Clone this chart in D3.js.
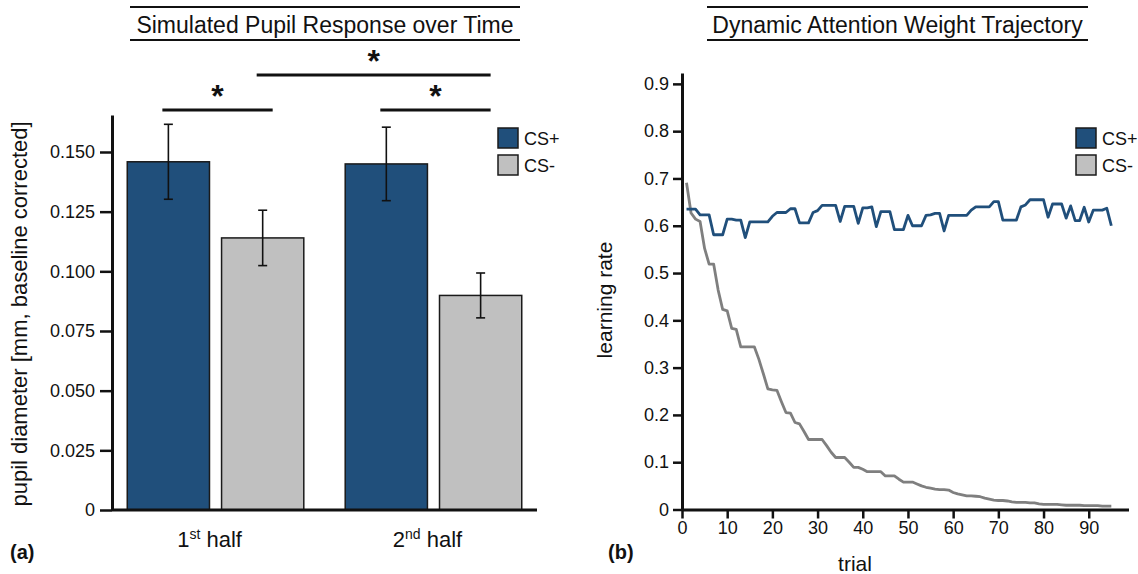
<!DOCTYPE html>
<html><head><meta charset="utf-8">
<script src="https://cdn.jsdelivr.net/npm/d3@7"></script>
<style>
body{margin:0;background:#fff}
svg{display:block}
text{font-family:"Liberation Sans",Arial,sans-serif;fill:#111}
</style>
</head><body>
<svg id="c" width="1138" height="574"></svg>
<script>
// ---------- data: panel (a) ----------
const groups = ["1st half", "2nd half"];
const groupOrdinal = ["1", "2"];
const groupSuffix = ["st", "nd"];
const groupWord = " half";
const conditions = ["CS+", "CS-"];
const pupilCSplus = [0.1459, 0.1450];
const pupilCSminus = [0.1140, 0.0899];
const errCSplus = [0.0157, 0.0154];
const errCSminus = [0.0116, 0.0094];
const pupilTicks = [0, 0.025, 0.05, 0.075, 0.1, 0.125, 0.15];
const pupilTickLabels = ["0", "0.025", "0.050", "0.075", "0.100", "0.125", "0.150"];
// significance brackets: [group, condition] -> [group, condition]
const sigPairs = [
  {from: [0, 0], to: [0, 1], level: 0},
  {from: [1, 0], to: [1, 1], level: 0},
  {from: [0, 1], to: [1, 1], level: 1}
];

// ---------- data: panel (b) ----------
const trials = d3.range(1, 96);
const rateCSplus = [0.635,0.635,0.635,0.623,0.623,0.623,0.581,0.581,0.581,0.614,
  0.614,0.612,0.612,0.575,0.608,0.608,0.608,0.608,0.608,0.620,
  0.628,0.628,0.628,0.636,0.636,0.606,0.606,0.606,0.628,0.632,
  0.643,0.643,0.643,0.643,0.609,0.641,0.641,0.641,0.605,0.638,
  0.638,0.640,0.598,0.630,0.630,0.630,0.592,0.592,0.592,0.622,
  0.600,0.600,0.600,0.622,0.623,0.626,0.626,0.589,0.622,0.622,
  0.622,0.622,0.622,0.633,0.640,0.640,0.640,0.640,0.651,0.651,
  0.612,0.612,0.612,0.612,0.640,0.644,0.655,0.655,0.655,0.655,
  0.618,0.646,0.646,0.646,0.616,0.642,0.611,0.611,0.639,0.608,
  0.633,0.633,0.633,0.637,0.600];
const rateCSminus = [0.691,0.627,0.614,0.609,0.552,0.519,0.519,0.464,0.423,0.420,
  0.383,0.381,0.344,0.344,0.344,0.344,0.318,0.287,0.255,0.253,
  0.252,0.228,0.205,0.204,0.184,0.181,0.165,0.148,0.148,0.148,
  0.148,0.135,0.121,0.110,0.110,0.110,0.100,0.089,0.089,0.085,
  0.080,0.080,0.080,0.080,0.071,0.071,0.071,0.064,0.058,0.058,
  0.058,0.054,0.050,0.047,0.045,0.043,0.042,0.042,0.041,0.036,
  0.033,0.031,0.029,0.029,0.028,0.027,0.024,0.022,0.020,0.019,
  0.019,0.018,0.016,0.015,0.015,0.015,0.014,0.014,0.012,0.011,
  0.011,0.011,0.011,0.010,0.009,0.009,0.009,0.009,0.008,0.008,
  0.008,0.008,0.007,0.007,0.007];
const rateTicks = [0, 0.1, 0.2, 0.3, 0.4, 0.5, 0.6, 0.7, 0.8, 0.9];
const trialTicks = [0, 10, 20, 30, 40, 50, 60, 70, 80, 90];

const colCSplus = "#204f7b";
const colCSminusBar = "#c0c0c0";
const colCSminusLine = "#7f7f7f";

const svg = d3.select("#c");

function titleBlock(text, x0, x1) {
  const g = svg.append("g");
  g.append("line").attr("x1", x0).attr("x2", x1).attr("y1", 7).attr("y2", 7)
    .attr("stroke", "#111").attr("stroke-width", 2);
  g.append("line").attr("x1", x0).attr("x2", x1).attr("y1", 40).attr("y2", 40)
    .attr("stroke", "#111").attr("stroke-width", 2);
  g.append("text").attr("x", (x0 + x1) / 2).attr("y", 33).attr("text-anchor", "middle")
    .attr("font-size", 23).text(text);
}

function styleAxis(g, tw) {
  g.select(".domain").attr("stroke", "#111").attr("stroke-width", 3);
  g.selectAll(".tick line").attr("stroke", "#111").attr("stroke-width", tw);
  g.selectAll(".tick text").attr("font-size", 18).attr("fill", "#111")
    .attr("font-family", '"Liberation Sans",Arial,sans-serif');
}

// ================= Panel (a) =================
titleBlock("Simulated Pupil Response over Time", 130, 520);

const yA = d3.scaleLinear().domain([0, 0.1655]).range([510, 115]);
const x0 = d3.scaleBand().domain(groups).range([112, 537]).paddingInner(0.19).paddingOuter(0.07);
const x1 = d3.scaleBand().domain(conditions).range([0, x0.bandwidth()]).paddingInner(0.128).paddingOuter(0);

const barData = [];
groups.forEach((g, i) => {
  barData.push({g, c: "CS+", v: pupilCSplus[i], e: errCSplus[i]});
  barData.push({g, c: "CS-", v: pupilCSminus[i], e: errCSminus[i]});
});

const bars = svg.append("g");
bars.selectAll("rect").data(barData).join("rect")
  .attr("x", d => x0(d.g) + x1(d.c))
  .attr("y", d => yA(d.v))
  .attr("width", x1.bandwidth())
  .attr("height", d => yA(0) - yA(d.v))
  .attr("fill", d => d.c === "CS+" ? colCSplus : colCSminusBar)
  .attr("stroke", "#1a1a1a").attr("stroke-width", 1.5);

const eb = svg.append("g").attr("stroke", "#111").attr("stroke-width", 1.6);
barData.forEach(d => {
  const cx = x0(d.g) + x1(d.c) + x1.bandwidth() / 2;
  eb.append("line").attr("x1", cx).attr("x2", cx).attr("y1", yA(d.v + d.e)).attr("y2", yA(d.v - d.e));
  eb.append("line").attr("x1", cx - 4.5).attr("x2", cx + 4.5).attr("y1", yA(d.v + d.e)).attr("y2", yA(d.v + d.e));
  eb.append("line").attr("x1", cx - 4.5).attr("x2", cx + 4.5).attr("y1", yA(d.v - d.e)).attr("y2", yA(d.v - d.e));
});

// x axis line
svg.append("line").attr("x1", x0.range()[0]).attr("x2", x0.range()[1])
  .attr("y1", yA(0)).attr("y2", yA(0)).attr("stroke", "#111").attr("stroke-width", 3);

const yAxisA = svg.append("g").attr("transform", `translate(${x0.range()[0]},0)`)
  .call(d3.axisLeft(yA).tickValues(pupilTicks).tickFormat((d, i) => pupilTickLabels[i])
    .tickSize(12).tickSizeOuter(0).tickPadding(5));
styleAxis(yAxisA, 2.5);

// group labels with superscripts
groups.forEach((g, i) => {
  const t = svg.append("text").attr("x", x0(g) + x0.bandwidth() / 2 - 6).attr("y", 547)
    .attr("text-anchor", "middle").attr("font-size", 22);
  t.append("tspan").text(groupOrdinal[i]);
  t.append("tspan").attr("font-size", 14).attr("dy", -8).text(groupSuffix[i]);
  t.append("tspan").attr("dy", 8).text(groupWord);
});

svg.append("text").attr("transform", "translate(27,314) rotate(-90)")
  .attr("text-anchor", "middle").attr("font-size", 22)
  .text("pupil diameter [mm, baseline corrected]");

// significance brackets
const sigY = [110, 75];
const barCenter = (gi, ci) => x0(groups[gi]) + x1(conditions[ci]) + x1.bandwidth() / 2;
const sg = svg.append("g");
sigPairs.forEach(p => {
  const xa = barCenter(p.from[0], p.from[1]) - 6;
  const xb = barCenter(p.to[0], p.to[1]) + 10;
  const y = sigY[p.level];
  sg.append("line").attr("x1", xa).attr("x2", xb).attr("y1", y).attr("y2", y)
    .attr("stroke", "#111").attr("stroke-width", 3);
  sg.append("text").attr("x", (xa + xb) / 2).attr("y", y - 3).attr("text-anchor", "middle")
    .attr("font-size", 32).attr("font-weight", "bold").text("*");
});

// legend (a)
const legA = svg.append("g");
conditions.forEach((c, i) => {
  legA.append("rect").attr("x", 498).attr("y", 128 + i * 27).attr("width", 20).attr("height", 20)
    .attr("fill", c === "CS+" ? colCSplus : colCSminusBar).attr("stroke", "#1a1a1a").attr("stroke-width", 1.5);
  legA.append("text").attr("x", 524).attr("y", 145 + i * 27).attr("font-size", 18).text(c);
});

svg.append("text").attr("x", 10).attr("y", 559).attr("font-size", 20).attr("font-weight", "bold").text("(a)");

// ================= Panel (b) =================
titleBlock("Dynamic Attention Weight Trajectory", 707, 1088);

const xB = d3.scaleLinear().domain([0, 98.8]).range([682, 1128.5]);
const yB = d3.scaleLinear().domain([0, 0.923]).range([509.5, 73]);

const line = d3.line().x((d, i) => xB(trials[i])).y(d => yB(d));
svg.append("path").datum(rateCSminus).attr("d", line).attr("fill", "none")
  .attr("stroke", colCSminusLine).attr("stroke-width", 2.8).attr("stroke-linejoin", "round");
svg.append("path").datum(rateCSplus).attr("d", line).attr("fill", "none")
  .attr("stroke", colCSplus).attr("stroke-width", 2.8).attr("stroke-linejoin", "round");

const xAxisB = svg.append("g").attr("transform", `translate(0,${yB(0)})`)
  .call(d3.axisBottom(xB).tickValues(trialTicks).tickSize(9).tickSizeOuter(0).tickPadding(3));
styleAxis(xAxisB, 2.5);

const yAxisB = svg.append("g").attr("transform", `translate(${xB(0)},0)`)
  .call(d3.axisLeft(yB).tickValues(rateTicks).tickFormat(d => d === 0 ? "0" : d3.format(".1f")(d))
    .tickSize(9).tickSizeOuter(0).tickPadding(4));
styleAxis(yAxisB, 2.5);

svg.append("text").attr("transform", "translate(612,300) rotate(-90)")
  .attr("text-anchor", "middle").attr("font-size", 21).text("learning rate");
svg.append("text").attr("x", 855).attr("y", 571).attr("text-anchor", "middle")
  .attr("font-size", 21).text("trial");

const legB = svg.append("g");
conditions.forEach((c, i) => {
  legB.append("rect").attr("x", 1076).attr("y", 128 + i * 27).attr("width", 20).attr("height", 20)
    .attr("fill", c === "CS+" ? colCSplus : colCSminusBar).attr("stroke", "#1a1a1a").attr("stroke-width", 1.5);
  legB.append("text").attr("x", 1102).attr("y", 145 + i * 27).attr("font-size", 18).text(c);
});

svg.append("text").attr("x", 608).attr("y", 559).attr("font-size", 20).attr("font-weight", "bold").text("(b)");
</script>
</body></html>
